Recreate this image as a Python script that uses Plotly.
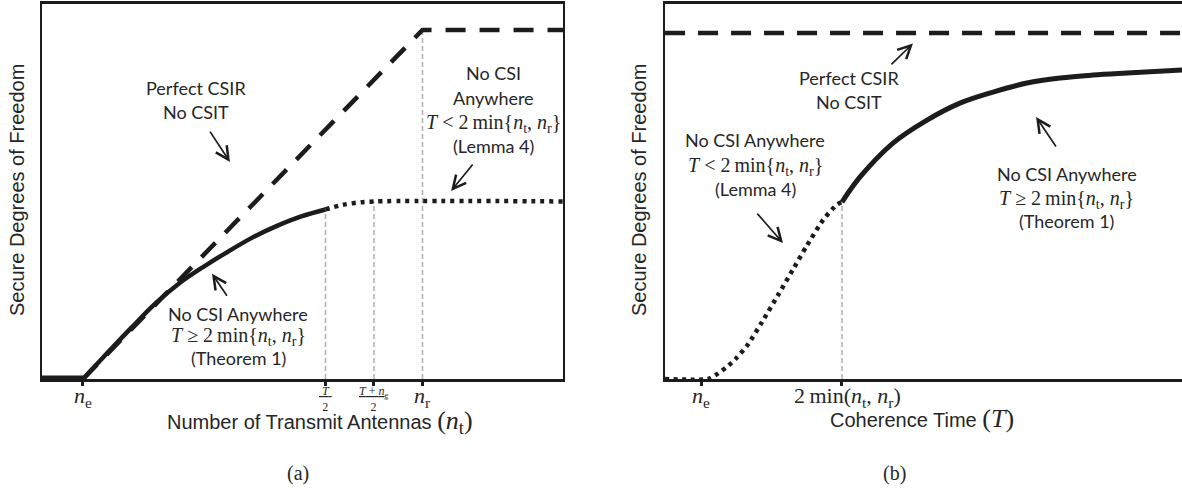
import plotly.graph_objects as go

W, H = 1182, 504

# ---------------- Panel (a): DoF vs number of transmit antennas ----------------
a_base_x = [1.155, 2.0]
a_base_y = [0.0, 0.0]
a_solid_x = [2.0, 2.5, 3.0, 3.5, 4.0, 4.5, 5.0, 5.5, 6.0, 6.5, 7.0]
a_solid_y = [0.0, 0.52, 1.03, 1.52, 1.93, 2.26, 2.56, 2.84, 3.07, 3.26, 3.40]
a_dot_x = [7.0, 7.3, 7.6, 8.0, 11.9]
a_dot_y = [3.40, 3.48, 3.53, 3.56, 3.56]
a_dash_x = [2.0, 9.0, 11.9]
a_dash_y = [0.0, 7.0, 7.0]
a_vline_x = [7.0, 8.0, 9.0]
a_vline_top = [3.40, 3.56, 7.0]
a_xrange = [1.155, 11.897]
a_yrange = [0.0, 7.52]
a_tick_vals = [2, 7, 8, 9]
a_tick_plain = {2: "<i>n</i><sub>e</sub>", 9: "<i>n</i><sub>r</sub>"}
a_tick_frac = {7: "\u00a0<i>T</i>\u00a0", 8: "<i>T</i> + <i>n</i><sub>e</sub>"}

# ---------------- Panel (b): DoF vs coherence time ----------------
b_dot_x = [0.47, 2.3, 2.7, 3.1, 3.5, 4.0, 4.6, 5.3, 5.9, 6.5, 7.2, 7.8, 8.0]
b_dot_y = [0.0, 0.0, 0.03, 0.07, 0.12, 0.20, 0.33, 0.49, 0.63, 0.77, 0.92, 1.01, 1.023]
b_solid_x = [8.0, 8.77, 10.17, 11.62, 13.02, 14.43, 15.87, 17.28, 18.68, 20.13, 22.47]
b_solid_y = [1.023, 1.168, 1.364, 1.497, 1.595, 1.659, 1.711, 1.74, 1.757, 1.769, 1.786]
b_dash_x = [0.47, 22.47]
b_dash_y = [2.0, 2.0]
b_vline_x = [8.0]
b_vline_top = [1.023]
b_xrange = [0.468, 22.47]
b_yrange = [0.0, 2.168]
b_tick_vals = [2, 8]
b_tick_text = ["<i>n</i><sub>e</sub>", "2\u2009min(<i>n</i><sub>t</sub>, <i>n</i><sub>r</sub>)"]

MATH_LT = "<i>T</i> &lt; 2\u2009min{<i>n</i><sub>t</sub>, <i>n</i><sub>r</sub>}"
MATH_GE = "<i>T</i> \u2265 2\u2009min{<i>n</i><sub>t</sub>, <i>n</i><sub>r</sub>}"

# label texts / anchor positions (data units)
a_labels = [
    (["Perfect CSIR", "No CSIT"], 4.33, [5.84, 5.36]),
    (["No CSI", "Anywhere", MATH_LT, "(Lemma 4)"], 10.47, [6.14, 5.64, 5.13, 4.67]),
    (["No CSI Anywhere", MATH_GE, "(Theorem 1)"], 5.20, [1.30, 0.86, 0.43]),
]
a_arrows = [((4.60, 4.99), (5.03, 4.35)), ((10.06, 4.33), (9.59, 3.77)), ((4.99, 1.64), (4.66, 2.11))]
b_labels = [
    (["Perfect CSIR", "No CSIT"], 8.30, [1.74, 1.60]),
    (["No CSI Anywhere", MATH_LT, "(Lemma 4)"], 4.30, [1.38, 1.23, 1.10]),
    (["No CSI Anywhere", MATH_GE, "(Theorem 1)"], 17.57, [1.185, 1.035, 0.913]),
]
b_arrows = [((10.04, 1.81), (11.02, 1.94)), ((4.34, 0.965), (5.49, 0.786)), ((17.15, 1.335), (16.26, 1.514))]

INK = "#1c1c1c"
TXT = "#262626"
GRAY = "#b3b3b3"
SANS = "Lato"
SERIF = "Liberation Serif"


def px(x):
    return x / W


def py(y):
    return 1 - y / H


fig = go.Figure()


def vlines(xs, tops):
    X, Y = [], []
    for x, t in zip(xs, tops):
        X += [x, x, None]
        Y += [0, t, None]
    return X, Y


# panel (a)
vx, vy = vlines(a_vline_x, a_vline_top)
fig.add_trace(go.Scatter(x=vx, y=vy, mode="lines", line=dict(color=GRAY, width=1.6, dash="5px,3px"),
                         xaxis="x", yaxis="y", hoverinfo="skip"))
fig.add_trace(go.Scatter(x=a_dash_x, y=a_dash_y, mode="lines", line=dict(color=INK, width=4.5, dash="20px,14px"),
                         xaxis="x", yaxis="y"))
fig.add_trace(go.Scatter(x=a_dot_x, y=a_dot_y, mode="lines", line=dict(color=INK, width=4.5, dash="4px,5px", shape="spline"),
                         xaxis="x", yaxis="y"))
fig.add_trace(go.Scatter(x=a_solid_x, y=a_solid_y, mode="lines", line=dict(color=INK, width=4.5, shape="spline"),
                         xaxis="x", yaxis="y"))
fig.add_trace(go.Scatter(x=a_base_x, y=a_base_y, mode="lines", line=dict(color=INK, width=7),
                         xaxis="x", yaxis="y"))

# panel (b)
vx, vy = vlines(b_vline_x, b_vline_top)
fig.add_trace(go.Scatter(x=vx, y=vy, mode="lines", line=dict(color=GRAY, width=1.6, dash="5px,3px"),
                         xaxis="x2", yaxis="y2", hoverinfo="skip"))
fig.add_trace(go.Scatter(x=b_dash_x, y=b_dash_y, mode="lines", line=dict(color=INK, width=4.5, dash="20px,13px"),
                         xaxis="x2", yaxis="y2"))
fig.add_trace(go.Scatter(x=b_dot_x, y=b_dot_y, mode="lines", line=dict(color=INK, width=4.5, dash="4px,4.5px", shape="spline", smoothing=0.6),
                         xaxis="x2", yaxis="y2"))
fig.add_trace(go.Scatter(x=b_solid_x, y=b_solid_y, mode="lines", line=dict(color=INK, width=5, shape="spline"),
                         xaxis="x2", yaxis="y2"))

ann = []


def add_labels(labels, arrows, xr, yr):
    for lines, x, ys in labels:
        for t, y in zip(lines, ys):
            is_math = "<i>T</i>" in t
            ann.append(dict(x=x, y=y, xref=xr, yref=yr, text=t, showarrow=False,
                            xanchor="center", yanchor="middle",
                            font=dict(family=SERIF if is_math else SANS, size=20 if is_math else 18, color=TXT)))
    for (tx, ty), (hx, hy) in arrows:
        ann.append(dict(x=hx, y=hy, ax=tx, ay=ty, xref=xr, yref=yr, axref=xr, ayref=yr, text="",
                        showarrow=True, arrowhead=5, arrowsize=1.5, arrowwidth=1.7, arrowcolor=INK, standoff=0))


add_labels(a_labels, a_arrows, "x", "y")
add_labels(b_labels, b_arrows, "x2", "y2")

# tick labels panel (a)
for v in a_tick_vals:
    if v in a_tick_plain:
        ann.append(dict(x=v, y=0, xref="x", yref="y", text=a_tick_plain[v], showarrow=False,
                        xanchor="center", yanchor="middle", yshift=-18,
                        font=dict(family=SERIF, size=22, color=TXT)))
    else:
        ann.append(dict(x=v, y=0, xref="x", yref="y", text="<u>" + a_tick_frac[v] + "</u><br>2", showarrow=False,
                        xanchor="center", yanchor="middle", yshift=-20,
                        font=dict(family=SERIF, size=12, color=TXT)))
# tick labels panel (b)
for v, t in zip(b_tick_vals, b_tick_text):
    ann.append(dict(x=v, y=0, xref="x2", yref="y2", text=t, showarrow=False,
                    xanchor="center", yanchor="middle", yshift=-18, xshift=6 if v == 8 else 0,
                    font=dict(family=SERIF, size=22, color=TXT)))

# axis titles
ann.append(dict(x=px(320), y=py(422), xref="paper", yref="paper", showarrow=False, xanchor="center", yanchor="middle",
                text="Number of Transmit Antennas <span style='font-family:Liberation Serif;font-size:26px'>(<i>n</i><sub>t</sub>)</span>",
                font=dict(family="Liberation Sans", size=20, color=TXT)))
ann.append(dict(x=px(922), y=py(418), xref="paper", yref="paper", showarrow=False, xanchor="center", yanchor="middle",
                text="Coherence Time <span style='font-family:Liberation Serif;font-size:26px'>(<i>T</i>)</span>",
                font=dict(family="Liberation Sans", size=20, color=TXT)))
for xx in (17, 639):
    ann.append(dict(x=px(xx), y=py(190), xref="paper", yref="paper", showarrow=False, textangle=-90,
                    xanchor="center", yanchor="middle", text="Secure Degrees of Freedom",
                    font=dict(family="Liberation Sans", size=20, color=TXT)))
ann.append(dict(x=px(285), y=py(487), xref="paper", yref="paper", showarrow=False, text="(a)",
                font=dict(family=SERIF, size=20, color=TXT)))
ann.append(dict(x=px(908), y=py(487), xref="paper", yref="paper", showarrow=False, text="(b)",
                font=dict(family=SERIF, size=20, color=TXT)))

ydom = [py(379), py(4)]
common_x = dict(showline=True, linecolor=INK, linewidth=2.5, mirror=True, ticks="outside", ticklen=4,
                tickwidth=2.5, tickcolor=INK, showticklabels=False, showgrid=False, zeroline=False)
common_y = dict(showline=True, linecolor=INK, linewidth=2, ticks="", showticklabels=False,
                showgrid=False, zeroline=False)

fig.update_layout(
    width=W, height=H, margin=dict(l=0, r=0, t=0, b=0),
    paper_bgcolor="white", plot_bgcolor="white", showlegend=False,
    xaxis=dict(domain=[px(42), px(563)], range=a_xrange, tickvals=a_tick_vals, anchor="y", **common_x),
    yaxis=dict(domain=ydom, range=a_yrange, anchor="x", mirror=True, **common_y),
    xaxis2=dict(domain=[px(665), 1.0], range=b_xrange, tickvals=b_tick_vals, anchor="y2", **common_x),
    yaxis2=dict(domain=ydom, range=b_yrange, anchor="x2", mirror=False, **common_y),
    annotations=ann,
)

fig.write_html("out.html", config={"displayModeBar": False},
               post_script="document.body.style.margin='0px';document.body.style.overflow='hidden';")
